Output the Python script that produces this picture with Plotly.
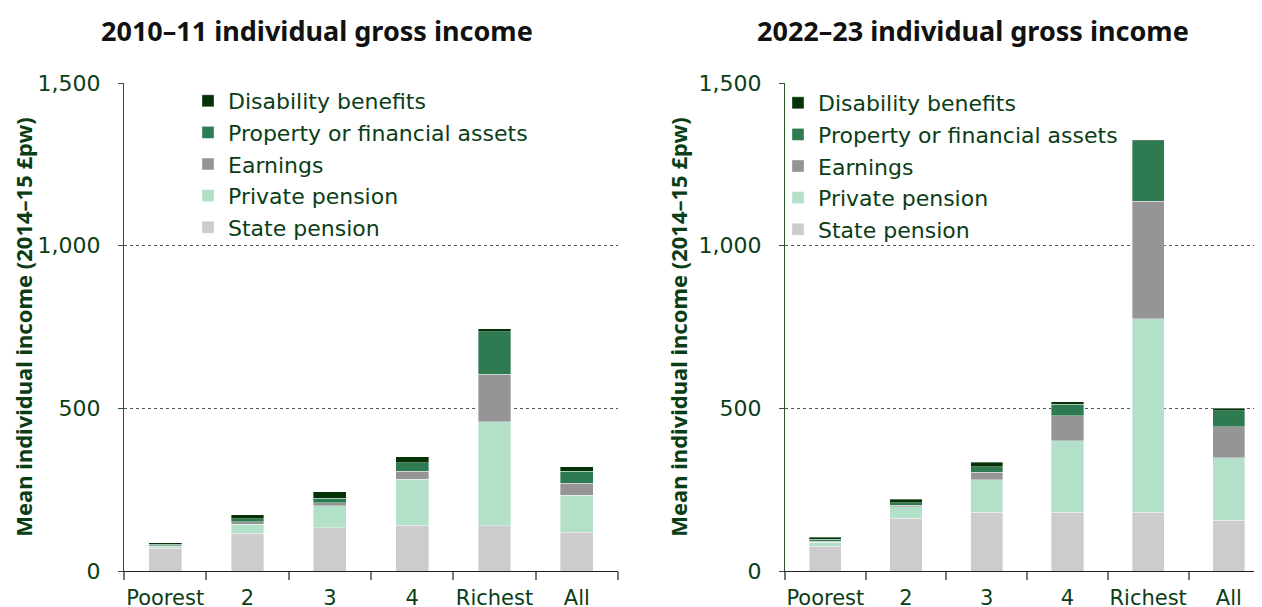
import plotly.graph_objects as go

categories = ["Poorest", "2", "3", "4", "Richest", "All"]
series_names = ["State pension", "Private pension", "Earnings",
                "Property or financial assets", "Disability benefits"]
colors = ["#cccccc", "#b3e0c8", "#959595", "#2e7b52", "#033307"]

# 2010-11 segment values (2014-15 £pw)
left_state = [70, 116, 133, 140, 139, 119]
left_private = [6, 28, 67, 142, 320, 114]
left_earnings = [2, 7, 10, 25, 146, 37]
left_property = [5, 9, 14, 25, 131, 37]
left_disability = [4, 13, 20, 19, 8, 13]

# 2022-23 segment values (2014-15 £pw)
right_state = [76, 162, 180, 180, 180, 156]
right_private = [13, 36, 101, 221, 595, 192]
right_earnings = [3, 4, 23, 76, 362, 95]
right_property = [5, 8, 17, 36, 186, 50]
right_disability = [7, 11, 13, 7, 3, 7]

yticks = [0, 500, 1000, 1500]

left_series = [left_state, left_private, left_earnings, left_property, left_disability]
right_series = [right_state, right_private, right_earnings, right_property, right_disability]

TXT = "#0b3d16"
FONT = "Noto Sans"
FONT2 = "DejaVu Sans"
# page has an 8px body margin; figure is sized to fill the rest of the window
W, H = 1254, 599

fig = go.Figure()
for name, col, vals in zip(series_names, colors, left_series):
    fig.add_trace(go.Bar(x=categories, y=vals, name=name, marker_color=col,
                         marker_line=dict(color="rgba(255,255,255,0.6)", width=0.6),
                         width=0.4, xaxis="x", yaxis="y", legend="legend"))
for name, col, vals in zip(series_names, colors, right_series):
    fig.add_trace(go.Bar(x=categories, y=vals, name=name, marker_color=col,
                         marker_line=dict(color="rgba(255,255,255,0.6)", width=0.6),
                         width=0.4, xaxis="x2", yaxis="y2", legend="legend2"))

top_px, bot_px = 75, 563
plot_h = bot_px - top_px

xl0, xl1 = 116 / W, 610 / W
xr0, xr1 = 777 / W, 1.0
right_cat = 80.7
right_max = -0.5 + (W - 777) / right_cat

common_x = dict(type="category", showline=True, linecolor="#222222", linewidth=1.2,
                ticks="outside", tickson="boundaries", ticklen=8, tickcolor="#777777",
                tickwidth=1.5, showgrid=False, tickangle=0, automargin=False,
                ticklabelstandoff=8,
                tickfont=dict(family=FONT2, size=21, color=TXT))
common_y = dict(range=[0, 1500], tickvals=yticks, tickformat=",", showline=True,
                linecolor="#2a5a2a", linewidth=1.2, ticks="outside", ticklen=5,
                tickcolor="#2a5a2a", showgrid=True, gridcolor="#555555",
                griddash="dot", gridwidth=1, zeroline=False, automargin=False,
                tickfont=dict(family=FONT2, size=22, color=TXT),
                ticklabelstandoff=13)
ytitle = dict(text="<b>Mean individual income (2014–15 £pw)</b>",
              font=dict(family=FONT, size=22, color=TXT), standoff=4)

legend_common = dict(traceorder="reversed", bgcolor="rgba(255,255,255,0)",
                     font=dict(family=FONT2, size=22, color=TXT),
                     itemwidth=30, xanchor="left", yanchor="top",
                     tracegroupgap=0)

fig.update_layout(
    width=W, height=H,
    barmode="stack",
    plot_bgcolor="white", paper_bgcolor="white",
    margin=dict(l=0, r=0, t=top_px, b=H - bot_px),
    showlegend=True,
    xaxis=dict(domain=[xl0, xl1], anchor="y", range=[-0.5, 5.5], **common_x),
    yaxis=dict(anchor="x", title=ytitle, **common_y),
    xaxis2=dict(domain=[xr0, xr1], anchor="y2", range=[-0.5, right_max], **common_x),
    yaxis2=dict(anchor="x2", title=ytitle, **common_y),
    legend=dict(x=180 / W, y=1 - (72 - top_px) / plot_h, **legend_common),
    legend2=dict(x=770 / W, y=1 - (74 - top_px) / plot_h, **legend_common),
    annotations=[
        dict(text="<b>2010–11 individual gross income</b>", xref="paper", yref="paper",
             x=309 / W, y=1 + (top_px - 22) / plot_h, showarrow=False,
             xanchor="center", yanchor="middle",
             font=dict(family=FONT, size=27, color="#111111")),
        dict(text="<b>2022–23 individual gross income</b>", xref="paper", yref="paper",
             x=965 / W, y=1 + (top_px - 22) / plot_h, showarrow=False,
             xanchor="center", yanchor="middle",
             font=dict(family=FONT, size=27, color="#111111")),
    ],
)

fig.write_html("out.html")
